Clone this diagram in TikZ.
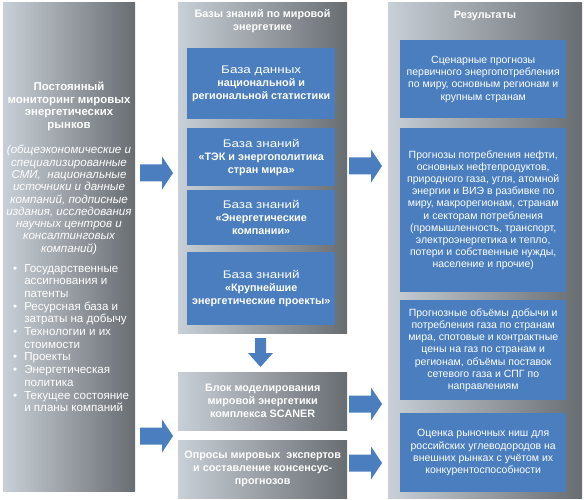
\documentclass[tikz,border=0pt]{standalone}
\usepackage{fontspec}
\setmainfont{Liberation Sans}
\newfontfamily\widereg{Liberation Sans}[FakeStretch=1.22]
\definecolor{pl}{RGB}{200,207,214}
\definecolor{pr}{RGB}{104,109,114}
\definecolor{bx}{RGB}{74,126,190}
\begin{document}
\begin{tikzpicture}[x=1pt,y=-1pt,
  panel/.style={shading=axis,left color=pl,right color=pr,anchor=north west,inner sep=0pt,draw=none},
  bbox/.style={fill=bx,anchor=north west,inner sep=0pt,draw=none},
  wt/.style={text=white,align=center,inner sep=0pt,font=\fontsize{10.5}{12.2}\selectfont},
  wb/.style={wt,font=\fontsize{10.8}{13}\selectfont\bfseries},
  rarr/.pic={\fill[bx] (0,-8.5) -- (22,-8.5) -- (22,-16.5) -- (33,0) -- (22,16.5) -- (22,8.5) -- (0,8.5) -- cycle;},
  darr/.pic={\fill[bx] (-5.5,0) -- (-5.5,15) -- (-12.5,15) -- (0,29) -- (12.5,15) -- (5.5,15) -- (5.5,0) -- cycle;}
]
\newcommand\bigreg[1]{{\widereg\fontsize{11}{13}\selectfont\mdseries #1}}
\useasboundingbox (0,0) rectangle (584,500);
\fill[white] (0,0) rectangle (584,500);
% panels
\node[panel,minimum width=132pt,minimum height=489pt] (mon) at (3,2) {};
\node[panel,minimum width=169pt,minimum height=331pt] (kb) at (178,2) {};
\node[panel,minimum width=169pt,minimum height=58pt] (mod) at (178,372) {};
\node[panel,minimum width=169pt,minimum height=58pt] (opr) at (178,440) {};
\node[panel,minimum width=194pt,minimum height=496pt] (res) at (388,2) {};
% left text
\node[wb,font=\fontsize{11.4}{12.5}\selectfont\bfseries] (mont) at (69,106.5) {Постоянный\\мониторинг мировых\\энергетических\\рынков};
\node[wt,font=\fontsize{11.6}{12.3}\selectfont\itshape] (mons) at (69,200) {(общеэкономические и\\специализированные\\СМИ,~ национальные\\источники и данные\\компаний, подписные\\издания, исследования\\научных центров и\\консалтинговых\\компаний)};
\node[wt,align=left,anchor=north west] (monl) at (13,263) {\renewcommand\arraystretch{1}\fontsize{11.6}{12.7}\selectfont
\begin{tabular}{@{}l@{\hspace{7pt}}l@{}}
\textbullet & Государственные\\
 & ассигнования и\\
 & патенты\\
\textbullet & Ресурсная база и\\
 & затраты на добычу\\
\textbullet & Технологии и их\\
 & стоимости\\
\textbullet & Проекты\\
\textbullet & Энергетическая\\
 & политика\\
\textbullet & Текущее состояние\\
 & и планы компаний
\end{tabular}};
% middle
\node[wb] (kbt) at (262.5,21.5) {Базы знаний по мировой\\энергетике};
\node[bbox,minimum width=148pt,minimum height=71pt] (b1) at (187,48) {};
\node[bbox,minimum width=148pt,minimum height=58pt] (b2) at (187,128) {};
\node[bbox,minimum width=148pt,minimum height=55pt] (b3) at (187,190) {};
\node[bbox,minimum width=148pt,minimum height=73pt] (b4) at (187,252) {};
\node[wb] at (b1.center) {\bigreg{База данных}\\национальной и\\региональной статистики};
\node[wb] at (b2.center) {\bigreg{База знаний}\\«ТЭК и энергополитика\\стран мира»};
\node[wb] at (b3.center) {\bigreg{База знаний}\\«Энергетические\\компании»};
\node[wb] at (b4.center) {\bigreg{База знаний}\\«Крупнейшие\\энергетические проекты»};
\node[wb] at (mod.center) {Блок моделирования\\мировой энергетики\\комплекса SCANER};
\node[wb] at (opr.center) {Опросы мировых~ экспертов\\и составление консенсус-\\прогнозов};
% right
\node[wb] (rest) at (485,15.5) {Результаты};
\node[bbox,minimum width=166pt,minimum height=78pt] (r1) at (400,40) {};
\node[bbox,minimum width=166pt,minimum height=164pt] (r2) at (400,128) {};
\node[bbox,minimum width=166pt,minimum height=100pt] (r3) at (400,300) {};
\node[bbox,minimum width=166pt,minimum height=79pt] (r4) at (400,413) {};
\node[wt] at (r1.center) {Сценарные прогнозы\\первичного энергопотребления\\по миру, основным регионам и\\крупным странам};
\node[wt] at (r2.center) {Прогнозы потребления нефти,\\основных нефтепродуктов,\\природного газа, угля, атомной\\энергии и ВИЭ в разбивке по\\миру, макрорегионам, странам\\и секторам потребления\\(промышленность, транспорт,\\электроэнергетика и тепло,\\потери и собственные нужды,\\население и прочие)};
\node[wt] at (r3.center) {Прогнозные объёмы добычи и\\потребления газа по странам\\мира, спотовые и контрактные\\цены на газ по странам и\\регионам, объёмы поставок\\сетевого газа и СПГ по\\направлениям};
\node[wt] at (r4.center) {Оценка рыночных ниш для\\российских углеводородов на\\внешних рынках с учётом их\\конкурентоспособности};
% arrows
\pic (a1) at (140,173) {rarr};
\pic (a2) at (140,436) {rarr};
\pic (a3) at (349,166) {rarr};
\pic (a4) at (349,404) {rarr};
\pic (a5) at (349,463) {rarr};
\pic (a6) at (260.5,338) {darr};
\end{tikzpicture}
\end{document}
